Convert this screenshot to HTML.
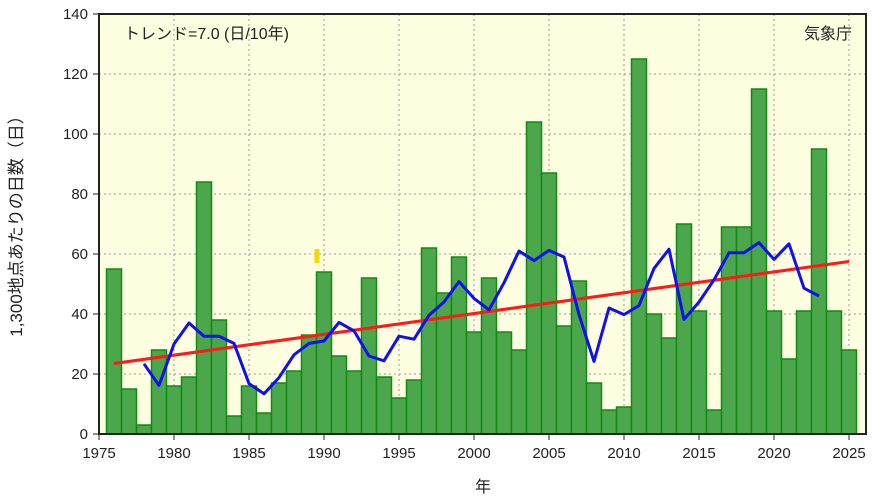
<!DOCTYPE html>
<html><head><meta charset="utf-8"><style>
body{margin:0;background:#fff;}
svg{display:block;font-family:"Liberation Sans","Noto Sans CJK JP",sans-serif;}
</style></head><body>
<svg id="s" width="886" height="500" xmlns="http://www.w3.org/2000/svg">
<rect x="99" y="14" width="767" height="420" fill="#fefee0"/>
<g id="grid"></g>
<g id="bars"></g>
<rect x="314.5" y="249" width="5" height="14" fill="#f5d800"/>
<polyline id="trend" fill="none" stroke="#ff1a1a" stroke-width="3"/>
<polyline id="ma" fill="none" stroke="#1010ee" stroke-width="3" stroke-linejoin="round"/>
<rect x="99" y="14" width="767" height="420" fill="none" stroke="#222" stroke-width="2"/>
<g id="ticks" font-size="15" fill="#222"></g>
<text x="124" y="39" font-size="16" fill="#222">トレンド=7.0 (日/10年)</text>
<text x="852" y="39" font-size="16" fill="#222" text-anchor="end">気象庁</text>
<text x="483" y="492" font-size="16" fill="#222" text-anchor="middle">年</text>
<text transform="translate(22,222) rotate(-90)" font-size="17" fill="#222" text-anchor="middle">1,300地点あたりの日数（日）</text>
</svg>
<script>
var v=[55,15,3,28,16,19,84,38,6,16,7,17,21,33,54,26,21,52,19,12,18,62,47,59,34,52,34,28,104,87,36,51,17,8,9,125,40,32,70,41,8,69,69,115,41,25,41,95,41,28];
var NS="http://www.w3.org/2000/svg";
function X(y){return 99+(y-1975)*15;}
function Y(d){return 434-d*3;}
function el(p,t,a,txt){var e=document.createElementNS(NS,t);for(var k in a)e.setAttribute(k,a[k]);if(txt)e.textContent=txt;document.getElementById(p).appendChild(e);}
for(var d=20;d<140;d+=20)el("grid","line",{x1:99,x2:866,y1:Y(d),y2:Y(d),stroke:"#999","stroke-dasharray":"2,3","stroke-width":1});
for(var y=1980;y<=2025;y+=5)el("grid","line",{x1:X(y),x2:X(y),y1:14,y2:434,stroke:"#999","stroke-dasharray":"2,3","stroke-width":1});
for(var i=0;i<v.length;i++){var yr=1976+i;el("bars","rect",{x:X(yr)-7.5,y:Y(v[i]),width:15,height:v[i]*3,fill:"#4ca64c",stroke:"#128a12","stroke-width":1.5});}
var pts=[];for(var i=2;i<v.length-2;i++){var s=0;for(var j=-2;j<=2;j++)s+=v[i+j];pts.push(X(1976+i)+","+Y(s/5));}
document.getElementById("ma").setAttribute("points",pts.join(" "));
document.getElementById("trend").setAttribute("points",X(1976)+","+Y(23.5)+" "+X(2025)+","+Y(57.5));
for(var d=0;d<=140;d+=20){el("ticks","line",{x1:93,x2:99,y1:Y(d),y2:Y(d),stroke:"#222"});el("ticks","text",{x:88,y:Y(d)+5,"text-anchor":"end"},""+d);}
for(var y=1975;y<=2025;y+=5){el("ticks","line",{x1:X(y),x2:X(y),y1:434,y2:440,stroke:"#222"});el("ticks","text",{x:X(y),y:458,"text-anchor":"middle"},""+y);}
</script>
</body></html>
